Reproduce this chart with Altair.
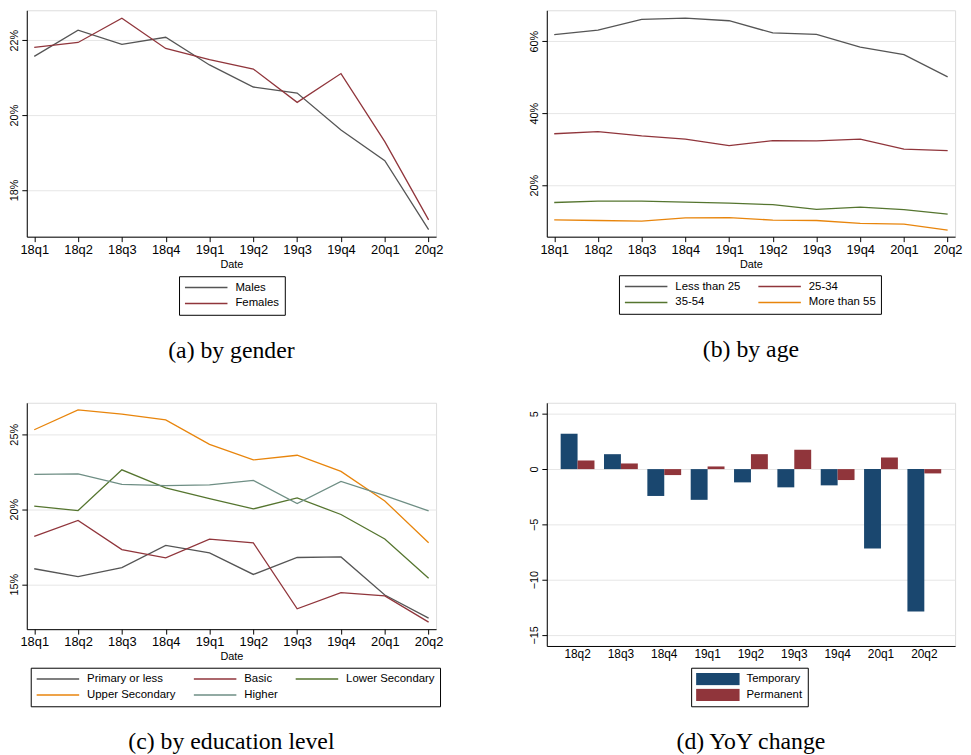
import altair as alt
import pandas as pd

quarters = ["18q1", "18q2", "18q3", "18q4", "19q1", "19q2", "19q3", "19q4", "20q1", "20q2"]

# (a) by gender
gender_names = ["Males", "Females"]
males = [21.57, 22.27, 21.89, 22.08, 21.34, 20.75, 20.59, 19.60, 18.78, 16.94]
females = [21.81, 21.94, 22.59, 21.78, 21.48, 21.23, 20.34, 21.11, 19.29, 17.20]

# (b) by age
age_names = ["Less than 25", "25-34", "35-54", "More than 55"]
age_lt25 = [61.85, 63.1, 66.1, 66.4, 65.7, 62.3, 61.9, 58.4, 56.3, 50.1]
age_25_34 = [34.3, 34.9, 33.7, 32.8, 31.0, 32.4, 32.3, 32.8, 30.0, 29.6]
age_35_54 = [15.2, 15.6, 15.6, 15.3, 15.0, 14.6, 13.3, 13.9, 13.2, 12.0]
age_gt55 = [10.4, 10.2, 10.0, 10.9, 11.0, 10.3, 10.2, 9.4, 9.2, 7.5]

# (c) by education level
edu_names = ["Primary or less", "Basic", "Lower Secondary", "Upper Secondary", "Higher"]
edu_primary = [16.03, 15.5, 16.11, 17.59, 17.09, 15.65, 16.78, 16.82, 14.28, 12.74]
edu_basic = [18.19, 19.25, 17.31, 16.75, 18.01, 17.75, 13.36, 14.44, 14.22, 12.47]
edu_lower = [20.2, 19.91, 22.63, 21.43, 20.71, 20.02, 20.75, 19.65, 18.01, 15.39]
edu_upper = [25.3, 26.62, 26.34, 25.96, 24.33, 23.29, 23.6, 22.52, 20.55, 17.77]
edu_higher = [22.32, 22.36, 21.66, 21.57, 21.63, 21.92, 20.38, 21.85, 20.9, 19.89]

# (d) YoY change
yoy_quarters = ["18q2", "18q3", "18q4", "19q1", "19q2", "19q3", "19q4", "20q1", "20q2"]
contract_names = ["Temporary", "Permanent"]
temporary = [3.2, 1.35, -2.43, -2.78, -1.2, -1.65, -1.47, -7.19, -12.87]
permanent = [0.78, 0.51, -0.54, 0.24, 1.35, 1.74, -0.99, 1.05, -0.39]

GRAY = "#555555"
MAROON = "#90353b"
GREEN = "#55752f"
ORANGE = "#e8850c"
TEAL = "#6e8e84"
NAVY = "#1a476f"

SANS = "Liberation Sans"
SERIF = "Liberation Serif"


def y_axis(ticks, expr):
    return alt.Axis(
        values=ticks, labelExpr=expr, title=None, grid=True, gridColor="#e6e6e6",
        gridWidth=1, domainColor="black", tickColor="black", tickSize=5,
        labelAngle=-90, labelAlign="center", labelBaseline="bottom",
        labelFontSize=11, labelFont=SANS, labelColor="black", labelPadding=2,
        minExtent=18, maxExtent=18,
    )


def legend(cols, lx, ly, line=True):
    kw = dict(
        orient="none", legendX=lx, legendY=ly, title=None, columns=cols,
        direction="horizontal", labelFont=SANS, labelFontSize=11.5, labelColor="black",
        labelOffset=7, padding=5, rowPadding=3, columnPadding=17, clipHeight=13,
        strokeColor="black", fillColor="white",
    )
    if line:
        kw.update(symbolType="stroke", symbolSize=1849, symbolStrokeWidth=1.5)
    else:
        kw.update(symbolType="M-1,-0.28H1V0.28H-1Z", symbolSize=1936, symbolStrokeWidth=0)
    return alt.Legend(**kw)


def caption(text):
    return alt.TitleParams(text=text, orient="bottom", font=SERIF, fontSize=24,
                           fontWeight="normal", color="black", offset=24, anchor="middle")


def line_panel(names, series, colors, domain, ticks, cap, cols, lx, ly, w, h):
    rows = []
    for name, vals in zip(names, series):
        for q, v in zip(quarters, vals):
            rows.append({"Date": q, "value": v, "series": name})
    df = pd.DataFrame(rows)
    return alt.Chart(df, title=caption(cap)).mark_line(strokeWidth=1.3).encode(
        x=alt.X("Date:O", sort=quarters,
                scale=alt.Scale(type="point", padding=0.17),
                axis=alt.Axis(title="Date", labelAngle=0, labelFont=SANS, labelFontSize=13,
                              labelColor="black", labelPadding=2, tickSize=5, tickColor="black",
                              domainColor="black", grid=False, titleFont=SANS, titleFontSize=11,
                              titleFontWeight="normal", titleColor="black", titlePadding=2)),
        y=alt.Y("value:Q", scale=alt.Scale(domain=domain, nice=False, zero=False),
                axis=y_axis(ticks, "datum.value + '%'")),
        color=alt.Color("series:N", sort=names,
                        scale=alt.Scale(domain=names, range=colors),
                        legend=legend(cols, lx, ly)),
    ).properties(width=w, height=h)


chart_a = line_panel(gender_names, [males, females], [GRAY, MAROON],
                     [16.75, 22.8], [18, 20, 22], "(a) by gender", 1, 154, 269, 414, 229)
chart_b = line_panel(age_names, [age_lt25, age_25_34, age_35_54, age_gt55],
                     [GRAY, MAROON, GREEN, ORANGE],
                     [5.7, 68.6], [20, 40, 60], "(b) by age", 2, 73, 268, 413, 229)
chart_c = line_panel(edu_names, [edu_primary, edu_basic, edu_lower, edu_upper, edu_higher],
                     [GRAY, MAROON, GREEN, ORANGE, TEAL],
                     [12.0, 27.1], [15, 20, 25], "(c) by education level", 3, 4, 268, 414, 229)

df_d = pd.DataFrame({
    "q": yoy_quarters + yoy_quarters,
    "value": temporary + permanent,
    "type": [contract_names[0]] * len(yoy_quarters) + [contract_names[1]] * len(yoy_quarters),
})
chart_d = alt.Chart(df_d, title=caption("(d) YoY change")).mark_bar().encode(
    x=alt.X("q:N", sort=yoy_quarters,
            scale=alt.Scale(paddingInner=0.22, paddingOuter=0.32),
            axis=alt.Axis(title=None, ticks=False, labelAngle=0, labelFont=SANS, labelFontSize=12,
                          labelColor="black", labelPadding=3, domainColor="black", grid=False)),
    xOffset=alt.XOffset("type:N", sort=contract_names,
                        scale=alt.Scale(paddingInner=0, paddingOuter=0)),
    y=alt.Y("value:Q", scale=alt.Scale(domain=[-16, 6], nice=False),
            axis=y_axis([5, 0, -5, -10, -15], "datum.label")),
    color=alt.Color("type:N", sort=contract_names,
                    scale=alt.Scale(domain=contract_names, range=[NAVY, MAROON]),
                    legend=legend(1, 146, 268, line=False)),
).properties(width=413, height=246)

top = alt.hconcat(chart_a, chart_b, spacing=85).resolve_scale(
    color="independent", x="independent", y="independent").resolve_legend(color="independent")
bottom = alt.hconcat(chart_c, chart_d, spacing=85).resolve_scale(
    color="independent", x="independent", y="independent").resolve_legend(color="independent")

chart = alt.vconcat(top, bottom, spacing=39).resolve_scale(
    color="independent", x="independent", y="independent").resolve_legend(
    color="independent").configure_view(fill="#fafafa", stroke=None).configure(
    background="white").properties(padding={"left": 0, "top": -3, "right": 0, "bottom": 0})

chart.save("out.html", embed_options={"renderer": "svg", "actions": False})
